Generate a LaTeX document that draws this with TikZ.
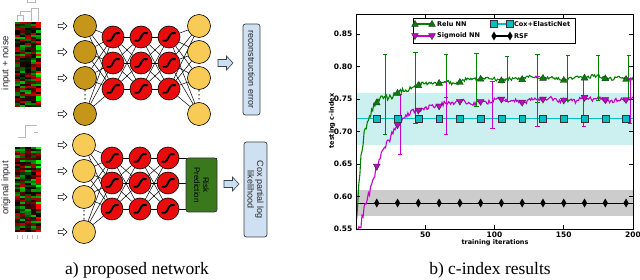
\documentclass[tikz,border=0pt]{standalone}
\usepackage{fontspec}
\setmainfont{Liberation Serif}
\setsansfont{Liberation Sans}
\newfontfamily\plotfont{DejaVu Sans}
\usetikzlibrary{backgrounds,calc}
\definecolor{golddark}{RGB}{197,150,25}
\definecolor{goldlight}{RGB}{247,203,85}
\definecolor{nred}{RGB}{232,12,12}
\definecolor{boxblue}{RGB}{206,224,242}
\definecolor{arrowblue}{RGB}{200,224,244}
\definecolor{riskgreen}{RGB}{58,120,30}
\definecolor{mplgreen}{rgb}{0,0.5,0}
\definecolor{mplmag}{rgb}{0.78,0,0.78}
\definecolor{mplcyan}{rgb}{0,0.75,0.75}
\definecolor{cyanband}{RGB}{204,240,240}
\definecolor{grayband}{RGB}{204,204,204}
\tikzset{
 pics/gtri/.style={code={\draw[x=1pt,y=-1pt,fill=mplgreen,draw=black!80,line width=0.4pt] (0,-3.6) -- (3.4,2.4) -- (-3.4,2.4) -- cycle;}},
 pics/mtri/.style={code={\draw[x=1pt,y=-1pt,fill=mplmag,draw=black!80,line width=0.4pt] (0,3.6) -- (3.4,-2.4) -- (-3.4,-2.4) -- cycle;}},
 pics/csq/.style={code={\draw[x=1pt,y=-1pt,fill=mplcyan,draw=black!80,line width=0.4pt] (-3.4,-3.4) rectangle (3.4,3.4);}},
 pics/kdia/.style={code={\fill[x=1pt,y=-1pt,black] (0,-4.5) -- (2.6,0) -- (0,4.5) -- (-2.6,0) -- cycle;}},
 pics/sarr/.style={code={\draw[x=1pt,y=-1pt,fill=white,line width=0.5pt] (-4.5,-1.6) -- (0.5,-1.6) -- (0.5,-3.8) -- (4.5,0) -- (0.5,3.8) -- (0.5,1.6) -- (-4.5,1.6) -- cycle;}},
 pics/barr/.style={code={\draw[x=1pt,y=-1pt,fill=arrowblue,draw=black!75,line width=0.6pt] (-7.5,-3.5) -- (1,-3.5) -- (1,-7) -- (7.5,0) -- (1,7) -- (1,3.5) -- (-7.5,3.5) -- cycle;}},
 pics/vdots/.style={code={\fill[x=1pt,y=-1pt,black] (0,-4) circle (0.75) (0,0) circle (0.75) (0,4) circle (0.75);}},
}
\begin{document}
\begin{tikzpicture}[x=1pt,y=-1pt,font=\sffamily,
  declare function={
    relu(\t)=0.783-0.18*exp(-\t/4)-0.06*exp(-\t/30);
    ng(\t)=0.002*sin(\t*9)+0.0015*sin(\t*23+50);
    sig(\t)=0.750-0.19*exp(-pow(\t/18,1.3))-0.025*exp(-\t/50);
    nm(\t)=0.002*sin(\t*11+30)+0.0015*sin(\t*29);
  },
  inA/.style={circle,draw=black,line width=0.6pt,fill=golddark,minimum size=23pt,inner sep=0pt},
  inB/.style={circle,draw=black,line width=0.6pt,fill=goldlight,minimum size=23pt,inner sep=0pt},
  hid/.style={circle,draw=black,line width=0.6pt,fill=nred,minimum size=22pt,inner sep=0pt,
    path picture={\draw[line width=1.9pt,shift={(path picture bounding box.center)}] (-6.5,3.8) -- (-3,3.8) .. controls (-1,3.8) and (1,-3.8) .. (3,-3.8) -- (6.5,-3.8);}},
  conn/.style={line width=0.5pt},
  lbl/.style={font=\sffamily\fontsize{9.5}{10}\selectfont,text=black!85},
  tickf/.style={font=\plotfont\bfseries\fontsize{7.5}{8}\selectfont},
  legf/.style={font=\plotfont\bfseries\fontsize{6.5}{7}\selectfont},
  capf/.style={font=\rmfamily\fontsize{17.5}{19}\selectfont}
]
\useasboundingbox (0,0) rectangle (640,280);
% ---------------- heatmaps
\pgfmathsetseed{12}
\foreach \hy in {22,147} {
  \foreach \c in {0,...,4} {
    \foreach \r in {0,...,39} {
      \pgfmathsetmacro\amp{ifthenelse(\c==4,1.35,0.75)}
      \pgfmathsetmacro\v{rand*\amp}
      \pgfmathsetmacro\rr{min(max(\v,0),1)}
      \pgfmathsetmacro\gg{min(max(-\v,0),1)}
      \definecolor{cellc}{rgb}{\rr,\gg,0}
      \fill[cellc] ({15+5.2*\c},{\hy+2.125*\r}) rectangle +(5.25,2.2);
    }
  }
}
\draw[gray!55,line width=0.4pt] (17,21) -- (17,15) -- (23,15) -- (23,21) (20,15) -- (20,11) -- (31,11) -- (31,21) (38,21) -- (38,8) -- (31,8) -- (31,11) (27,0) -- (27,2) -- (35,2) -- (35,0);
\draw[gray!55,line width=0.4pt] (18,137) -- (25,137) -- (25,125) -- (37,125) (34,132) -- (38,132);
\foreach \gx in {17,22,27,32,37} {\draw[gray!50,line width=0.4pt] (\gx,235) -- (\gx,239);}
\node[lbl,rotate=90] (lin) at (6,63) {input + noise};
\node[lbl,rotate=90] (lor) at (6,188) {original input};
% ---------------- top network
\foreach \i/\yy in {1/26,2/52,3/78,4/114} {
  \node[inA] (ti\i) at (85,\yy) {};
  \node[inB] (to\i) at (199,\yy) {};
  \pic at (62.5,\yy) {sarr};
}
\foreach \j/\yy in {1/37,2/63,3/89} {
  \node[hid] (ta\j) at (113,\yy) {};
  \node[hid] (tb\j) at (141,\yy) {};
  \node[hid] (tc\j) at (169,\yy) {};
}
\pic at (85,95) {vdots};
\pic at (199,95) {vdots};
\begin{pgfonlayer}{background}
\foreach \i in {1,...,4} \foreach \j in {1,2,3} {\draw[conn] (ti\i) -- (ta\j); \draw[conn] (tc\j) -- (to\i);}
\foreach \i in {1,2,3} \foreach \j in {1,2,3} {\draw[conn] (ta\i) -- (tb\j); \draw[conn] (tb\i) -- (tc\j);}
\end{pgfonlayer}
\pic at (225.5,63) {barr};
\node[draw=black!75,line width=0.7pt,fill=boxblue,rounded corners=2.5pt,rotate=-90,minimum width=91pt,minimum height=17pt,inner sep=0pt,lbl,font=\sffamily\fontsize{9}{10}\selectfont] (recon) at (251.5,69.5) {reconstruction error};
% ---------------- bottom network
\foreach \i/\yy in {1/145,2/171,3/197,4/232} {
  \node[inB] (bi\i) at (84,\yy) {};
  \pic at (62.5,\yy) {sarr};
}
\foreach \j/\yy in {1/158,2/183,3/209} {
  \node[hid] (ba\j) at (112,\yy) {};
  \node[hid] (bb\j) at (140,\yy) {};
  \node[hid] (bc\j) at (168,\yy) {};
}
\pic at (84,215) {vdots};
\node[draw=black!80,line width=0.7pt,fill=riskgreen,rounded corners=2.5pt,rotate=-90,minimum width=54pt,minimum height=31pt,inner sep=0pt,align=center,font=\sffamily\fontsize{8}{9}\selectfont] (risk) at (201.5,185) {Risk\\Prediction};
\begin{pgfonlayer}{background}
\foreach \i in {1,...,4} \foreach \j in {1,2,3} {\draw[conn] (bi\i) -- (ba\j);}
\foreach \i in {1,2,3} \foreach \j in {1,2,3} {\draw[conn] (ba\i) -- (bb\j); \draw[conn] (bb\i) -- (bc\j);}
\foreach \j in {1,2,3} {\draw[conn] (bc\j) -- (bc\j -| risk.north);}
\end{pgfonlayer}
\pic at (231.5,184) {barr};
\node[draw=black!75,line width=0.7pt,fill=boxblue,rounded corners=2.5pt,rotate=-90,minimum width=95pt,minimum height=23pt,inner sep=0pt,align=center,font=\sffamily\fontsize{9}{9.5}\selectfont,text=black!85] (cox) at (255.5,189.5) {Cox partial log\\likelihood};
% ---------------- plot
\pgfmathsetseed{5}
\begin{scope}[x=1.385pt,y=650pt,shift={(356pt,-586.5pt)}]
  \fill[cyanband] (0,0.68) rectangle (200,0.76);
  \fill[grayband] (0,0.57) rectangle (200,0.61);
  \begin{scope}
    \clip (0,0.55) rectangle (200,0.88);
    \draw[black,line width=1pt] (0,0.59) -- (200,0.59);
    \draw[mplcyan,line width=1pt] (0,0.72) -- (200,0.72);
    \draw[mplgreen,line width=1.1pt] plot[domain=0.5:200,samples=260] (\x,{relu(\x)+ng(\x)+0.0025*rand*(1+2.5*exp(-\x/20))});
    \draw[mplmag,line width=1.1pt] plot[domain=0.5:200,samples=260] (\x,{sig(\x)+nm(\x)+0.003*rand*(1+2.5*exp(-\x/20))});
    \foreach \ex/\lo/\hi in {21/0.695/0.819,43/0.712/0.822,65/0.752/0.818,87/0.738/0.82,109/0.747/0.816,131/0.745/0.818,153/0.748/0.817,175/0.748/0.817,197/0.75/0.817} {
      \draw[mplgreen,line width=0.9pt] (\ex,\lo) -- (\ex,\hi) (\ex-1.5,\lo) -- (\ex+1.5,\lo) (\ex-1.5,\hi) -- (\ex+1.5,\hi);
    }
    \foreach \ex/\lo/\hi in {32/0.664/0.757,65/0.695/0.777,98.5/0.705/0.777,131/0.707/0.784,164.5/0.707/0.782,198/0.712/0.782} {
      \draw[mplmag,line width=0.9pt] (\ex,\lo) -- (\ex,\hi) (\ex-1.5,\lo) -- (\ex+1.5,\lo) (\ex-1.5,\hi) -- (\ex+1.5,\hi);
    }
    \foreach \k in {1,...,13} {
      \pgfmathsetmacro\xx{15*\k}
      \pgfmathsetmacro\yg{relu(\xx)+ng(\xx)}
      \pgfmathsetmacro\ym{sig(\xx)+nm(\xx)}
      \pic at (\xx,0.59) {kdia};
      \pic at (\xx,0.72) {csq};
      \pic at (\xx,\yg) {gtri};
      \pic at (\xx,\ym) {mtri};
    }
  \end{scope}
  \draw[line width=0.8pt] (0,0.55) rectangle (200,0.88);
  \foreach \v/\t in {0.55/0.55,0.6/0.60,0.65/0.65,0.7/0.70,0.75/0.75,0.8/0.80,0.85/0.85} {
    \draw[line width=0.6pt] (0,\v) -- ++(4pt,0) (200,\v) -- ++(-4pt,0);
    \node[tickf,anchor=east,inner sep=0pt] (yt\t) at ([xshift=-3.5pt]0,\v) {\t};
  }
  \foreach \xv in {50,100,150} {
    \draw[line width=0.6pt] (\xv,0.55) -- ++(0,4pt) (\xv,0.88) -- ++(0,-4pt);
  }
  \foreach \xv in {50,100,150,200} {
    \node[tickf,anchor=north,inner sep=0pt] (xt\xv) at ([yshift=-2.5pt]\xv,0.55) {\xv};
  }
\end{scope}
\node[legf] (xlab) at (495,243) {training iterations};
\node[legf,rotate=90] (ylab) at (332,121) {testing c-index};
% legend
\node[draw=black,line width=0.6pt,fill=white,minimum width=162pt,minimum height=25pt,inner sep=0pt] (legbox) at (494,30.5) {};
\draw[mplgreen,line width=1.1pt] (415,24) -- (432,24);
\pic at (415,24) {gtri}; \pic at (432,24) {gtri};
\node[legf,anchor=west,inner sep=0pt] (l1) at (437,24) {Relu NN};
\draw[mplmag,line width=1.1pt] (415,36) -- (432,36);
\pic at (415,36) {mtri}; \pic at (432,36) {mtri};
\node[legf,anchor=west,inner sep=0pt] (l2) at (437,36) {Sigmoid NN};
\draw[mplcyan,line width=1.1pt] (494,24) -- (510,24);
\pic at (494,24) {csq}; \pic at (510,24) {csq};
\node[legf,anchor=west,inner sep=0pt] (l3) at (514,24) {Cox+ElasticNet};
\draw[black,line width=1.1pt] (494,36) -- (510,36);
\pic at (494,36) {kdia}; \pic at (510,36) {kdia};
\node[legf,anchor=west,inner sep=0pt] (l4) at (514,36) {RSF};
% captions
\node[capf,anchor=base] (capa) at (137,274.5) {a) proposed network};
\node[capf,anchor=base] (capb) at (490,274.5) {b) c-index results};
\end{tikzpicture}
\end{document}
